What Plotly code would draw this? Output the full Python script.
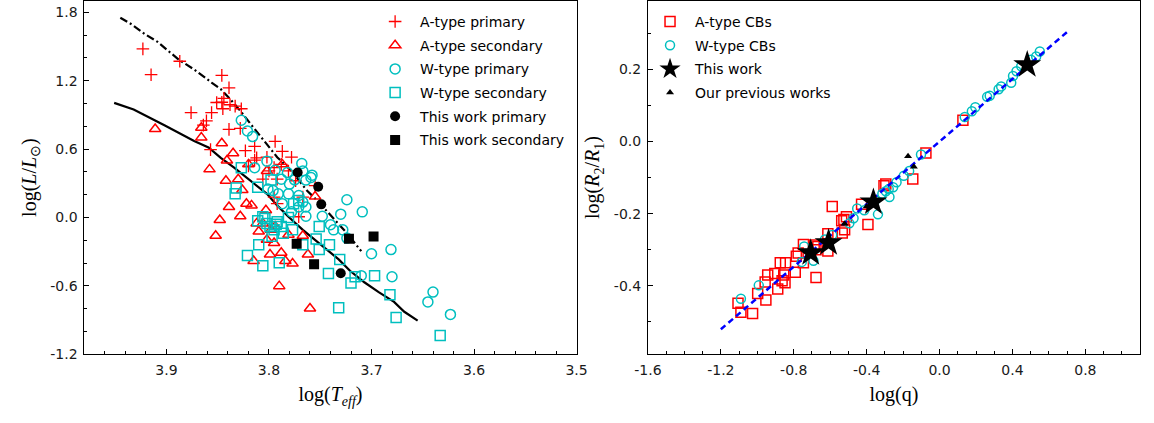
import plotly.graph_objects as go

# ---------------- Left panel: HR diagram of contact binary components ----------------
a_pri_logt = [3.923, 3.915, 3.887, 3.846, 3.839, 3.844, 3.846, 3.851, 3.838, 3.833,
              3.827, 3.845, 3.876, 3.856, 3.861, 3.864, 3.839, 3.828, 3.857, 3.823,
              3.814, 3.812, 3.814, 3.794, 3.787, 3.778, 3.802, 3.795, 3.800, 3.788,
              3.806, 3.792, 3.781, 3.774, 3.767, 3.755, 3.795, 3.820, 3.792, 3.771]
a_pri_logl = [1.48, 1.253, 1.371, 1.247, 1.138, 1.046, 1.011, 1.009, 0.989, 0.977,
              0.954, 0.954, 0.920, 0.920, 0.848, 0.810, 0.773, 0.782, 0.595, 0.586,
              0.624, 0.523, 0.503, 0.667, 0.580, 0.529, 0.529, 0.437, 0.408, 0.466,
              0.336, 0.336, 0.408, 0.322, 0.178, 0.279, 0.178, 0.451, 0.121, 0.006]

a_sec_logt = [3.911, 3.866, 3.866, 3.846, 3.835, 3.841, 3.858, 3.842, 3.830, 3.826,
              3.822, 3.817, 3.839, 3.828, 3.848, 3.852, 3.820, 3.803, 3.812, 3.810,
              3.798, 3.802, 3.795, 3.815, 3.799, 3.788, 3.784, 3.777, 3.790, 3.767,
              3.762, 3.760, 3.755, 3.781, 3.787, 3.802, 3.806, 3.794]
a_sec_logl = [0.776, 0.787, 0.701, 0.652, 0.563, 0.500, 0.422, 0.322, 0.336, 0.241,
              0.121, 0.106, 0.092, 0.011, -0.023, -0.161, 0.466, 0.063, -0.052, -0.124,
              -0.109, -0.195, -0.224, -0.382, -0.325, -0.310, -0.382, -0.405, -0.603, -0.161,
              -0.325, -0.799, 0.184, -0.152, 0.466, 0.408, -0.052, -0.080]

w_pri_logt = [3.827, 3.821, 3.816, 3.814, 3.802, 3.794, 3.788, 3.782, 3.780, 3.775,
              3.768, 3.767, 3.764, 3.759, 3.758, 3.796, 3.791, 3.781, 3.771, 3.767,
              3.771, 3.764, 3.778, 3.764, 3.748, 3.740, 3.737, 3.728, 3.724, 3.730,
              3.709, 3.724, 3.700, 3.681, 3.680, 3.710, 3.640, 3.645, 3.623, 3.801,
              3.787]
w_pri_logl = [0.853, 0.759, 0.710, 0.437, 0.494, 0.414, 0.336, 0.394, 0.293, 0.330,
              0.474, 0.408, 0.328, 0.351, 0.371, 0.236, 0.207, 0.207, 0.193, 0.135,
              0.092, 0.092, 0.049, 0.011, 0.011, -0.063, -0.109, -0.109, 0.155, 0.029,
              0.049, -0.181, -0.319, -0.282, -0.520, -0.511, -0.655, -0.741, -0.851, 0.250,
              0.121]

w_sec_logt = [3.827, 3.832, 3.833, 3.811, 3.798, 3.811, 3.806, 3.802, 3.799, 3.795,
              3.792, 3.788, 3.786, 3.797, 3.781, 3.777, 3.810, 3.821, 3.806, 3.790,
              3.767, 3.751, 3.754, 3.751, 3.741, 3.742, 3.731, 3.720, 3.716, 3.697,
              3.682, 3.676, 3.732, 3.633, 3.776, 3.771, 3.804, 3.793]
w_sec_logl = [0.437, 0.259, 0.207, 0.264, 0.328, -0.029, 0.006, -0.052, -0.080, -0.109,
              -0.037, -0.080, -0.138, -0.166, 0.000, -0.109, -0.239, -0.333, -0.425, -0.397,
              -0.239, -0.080, -0.190, -0.282, -0.239, -0.491, -0.368, -0.575, -0.520, -0.511,
              -0.678, -0.879, -0.793, -1.037, 0.121, 0.149, -0.010, -0.060]

tw_pri_logt = [3.772, 3.752, 3.749, 3.730]
tw_pri_logl = [0.394, 0.270, 0.115, -0.489]
tw_sec_logt = [3.773, 3.756, 3.722, 3.698]
tw_sec_logl = [-0.230, -0.411, -0.187, -0.167]

# zero-age main sequence (solid) and terminal-age main sequence (dash-dot)
zams_logt = [3.951, 3.932, 3.902, 3.873, 3.859, 3.847, 3.834, 3.820, 3.802, 3.792,
             3.781, 3.767, 3.749, 3.732, 3.721, 3.707, 3.693, 3.678, 3.668, 3.655]
zams_logl = [1.006, 0.948, 0.810, 0.672, 0.615, 0.523, 0.437, 0.336, 0.207, 0.106,
             0.006, -0.109, -0.239, -0.368, -0.468, -0.569, -0.655, -0.741, -0.828, -0.905]
tams_logt = [3.945, 3.934, 3.921, 3.909, 3.888, 3.873, 3.856, 3.847, 3.838, 3.827,
             3.817, 3.802, 3.792, 3.778, 3.763, 3.753, 3.739, 3.724, 3.710]
tams_logl = [1.753, 1.695, 1.609, 1.543, 1.385, 1.299, 1.184, 1.126, 1.040, 0.925,
             0.810, 0.638, 0.529, 0.408, 0.236, 0.149, 0.006, -0.138, -0.296]

# ---------------- Right panel: radius ratio vs mass ratio ----------------
a_cb_logq = [0.128, -0.075, -0.147, -0.589, -0.393, -0.678, -0.305, -0.295, -0.428, -0.511,
             -0.525, -0.537, -0.521, -0.534, -0.613, -0.613, -0.668, -0.688, -0.747, -0.776,
             -0.786, -0.792, -0.845, -0.874, -0.855, -0.864, -0.848, -0.888, -0.904, -0.943,
             -0.957, -0.998, -0.953, -1.106, -1.090, -1.026, -0.747, -0.678]
a_cb_logr = [0.059, -0.032, -0.104, -0.180, -0.230, -0.377, -0.123, -0.118, -0.174, -0.209,
             -0.216, -0.220, -0.245, -0.254, -0.256, -0.304, -0.291, -0.287, -0.286, -0.309,
             -0.318, -0.363, -0.336, -0.336, -0.370, -0.386, -0.392, -0.409, -0.366, -0.370,
             -0.390, -0.422, -0.440, -0.449, -0.474, -0.477, -0.336, -0.300]

w_cb_logq = [0.550, 0.530, 0.448, 0.422, 0.403, 0.393, 0.338, 0.324, 0.275, 0.261,
             0.196, 0.177, 0.138, -0.102, -0.167, -0.196, -0.236, -0.255, -0.279, -0.295,
             -0.338, -0.354, -0.413, -0.452, -0.472, -0.495, -0.589, -0.629, -0.743, -0.756,
             -0.692, -0.992, -1.090, -0.275, -0.314, 0.501]
w_cb_logr = [0.250, 0.236, 0.209, 0.195, 0.182, 0.163, 0.153, 0.145, 0.127, 0.124,
             0.095, 0.084, 0.068, -0.036, -0.082, -0.095, -0.113, -0.127, -0.132, -0.138,
             -0.202, -0.163, -0.191, -0.186, -0.213, -0.227, -0.259, -0.272, -0.291, -0.334,
             -0.331, -0.399, -0.436, -0.154, -0.145, 0.227]

tw_logq = [0.481, -0.363, -0.609, -0.707]
tw_logr = [0.213, -0.168, -0.281, -0.309]

prev_logq = [-0.173, -0.141, -0.521, -0.400]
prev_logr = [-0.041, -0.070, -0.228, -0.180]

fit_logq = [-1.2, 0.7]
fit_logr = [-0.521, 0.304]

# tick labels (hyphen minus as printed on the axes)
left_xticks = [3.5, 3.6, 3.7, 3.8, 3.9]
left_xtext = ["3.5", "3.6", "3.7", "3.8", "3.9"]
left_yticks = [-1.2, -0.6, 0.0, 0.6, 1.2, 1.8]
left_ytext = ["-1.2", "-0.6", "0.0", "0.6", "1.2", "1.8"]
right_xticks = [-1.6, -1.2, -0.8, -0.4, 0.0, 0.4, 0.8]
right_xtext = ["-1.6", "-1.2", "-0.8", "-0.4", "0.0", "0.4", "0.8"]
right_yticks = [-0.4, -0.2, 0.0, 0.2]
right_ytext = ["-0.4", "-0.2", "0.0", "0.2"]

RED = "#FF0000"
CYAN = "#00BFBF"
W, H = 1154, 423

fig = go.Figure()


def pts(x, y, name, symbol, color, size, lw, xa, ya, legend):
    fig.add_trace(go.Scatter(
        x=x, y=y, mode="markers", name=name, xaxis=xa, yaxis=ya,
        legend=legend, legendgroup=name,
        marker=dict(symbol=symbol, color=color, size=size,
                    line=dict(width=lw, color=color)),
    ))


# evolutionary tracks (drawn first, underneath, hidden from legend)
fig.add_trace(go.Scatter(x=zams_logt, y=zams_logl, mode="lines", showlegend=False,
                         line=dict(color="black", width=2.2), xaxis="x", yaxis="y"))
fig.add_trace(go.Scatter(x=tams_logt, y=tams_logl, mode="lines", showlegend=False,
                         line=dict(color="black", width=2.2, dash="8px,3px,2px,3px"),
                         xaxis="x", yaxis="y"))

pts(a_pri_logt, a_pri_logl, "A-type primary", "cross-thin-open", RED, 9, 1.3, "x", "y", "legend")
pts(a_sec_logt, a_sec_logl, "A-type secondary", "triangle-up-open", RED, 10, 1.5, "x", "y", "legend")
pts(w_pri_logt, w_pri_logl, "W-type primary", "circle-open", CYAN, 10, 1.5, "x", "y", "legend")
pts(w_sec_logt, w_sec_logl, "W-type secondary", "square-open", CYAN, 10, 1.5, "x", "y", "legend")
pts(tw_pri_logt, tw_pri_logl, "This work primary", "circle", "black", 10, 0, "x", "y", "legend")
pts(tw_sec_logt, tw_sec_logl, "This work secondary", "square", "black", 10, 0, "x", "y", "legend")

pts(a_cb_logq, a_cb_logr, "A-type CBs", "square-open", RED, 10, 1.5, "x2", "y2", "legend2")
pts(w_cb_logq, w_cb_logr, "W-type CBs", "circle-open", CYAN, 9, 1.5, "x2", "y2", "legend2")
fig.add_trace(go.Scatter(x=fit_logq, y=fit_logr, mode="lines", showlegend=False,
                         line=dict(color="#0000FF", width=2.5, dash="6px,4px"),
                         xaxis="x2", yaxis="y2"))
pts(tw_logq, tw_logr, "This work", "star", "black", 21, 0, "x2", "y2", "legend2")
pts(prev_logq, prev_logr, "Our previous works", "triangle-up", "black", 7, 0, "x2", "y2", "legend2")

TICKFONT = dict(family="DejaVu Sans", size=14, color="#1a1a1a")
TITLEFONT = dict(family="Liberation Serif", size=20, color="black")


def axis(domain, rng, tickvals, ticktext, minor_dtick, anchor, title, standoff):
    return dict(
        domain=domain, range=rng, anchor=anchor,
        tickmode="array", tickvals=tickvals, ticktext=ticktext,
        ticks="inside", ticklen=5, tickwidth=1, tickcolor="black",
        ticklabelstandoff=3,
        minor=dict(dtick=minor_dtick, tick0=0, ticks="inside", ticklen=3,
                   tickwidth=1, tickcolor="black"),
        showline=True, linecolor="black", linewidth=1, mirror=True,
        showgrid=False, zeroline=False, tickfont=TICKFONT,
        title=dict(text=title, font=TITLEFONT, standoff=standoff),
    )


LX = [72 / W, 575 / W]
RX = [648 / W, 1151 / W]
YD = [1 - 361 / H, 1 - 1 / H]

fig.update_layout(
    width=W, height=H, autosize=False,
    margin=dict(l=0, r=0, t=0, b=0),
    paper_bgcolor="white", plot_bgcolor="white",
    xaxis=axis(LX, [3.98, 3.5], left_xticks, left_xtext, 0.02, "y",
               "log(<i>T</i><sub><i>eff</i></sub>)", 10),
    yaxis=axis(YD, [-1.2, 1.9], left_yticks, left_ytext, 0.2, "x",
               "log(<i>L</i>/<i>L</i><sub>⊙</sub>)", 8),
    xaxis2=axis(RX, [-1.6, 1.1], right_xticks, right_xtext, 0.1, "y2",
                "log(q)", 10),
    yaxis2=axis(YD, [-0.59, 0.39], right_yticks, right_ytext, 0.1, "x2",
                "log(<i>R</i><sub>2</sub>/<i>R</i><sub>1</sub>)", 8),
    legend=dict(x=364 / W, y=1 - 6 / H, xanchor="left", yanchor="top",
                bgcolor="rgba(0,0,0,0)", borderwidth=0, itemwidth=40,
                traceorder="grouped", tracegroupgap=2.5,
                font=dict(family="DejaVu Sans", size=14, color="black")),
    legend2=dict(x=645 / W, y=1 - 6 / H, xanchor="left", yanchor="top",
                 bgcolor="rgba(0,0,0,0)", borderwidth=0, itemwidth=40,
                 traceorder="grouped", tracegroupgap=2.5,
                 font=dict(family="DejaVu Sans", size=14, color="black")),
    showlegend=True,
)

fig.write_html("out.html")
